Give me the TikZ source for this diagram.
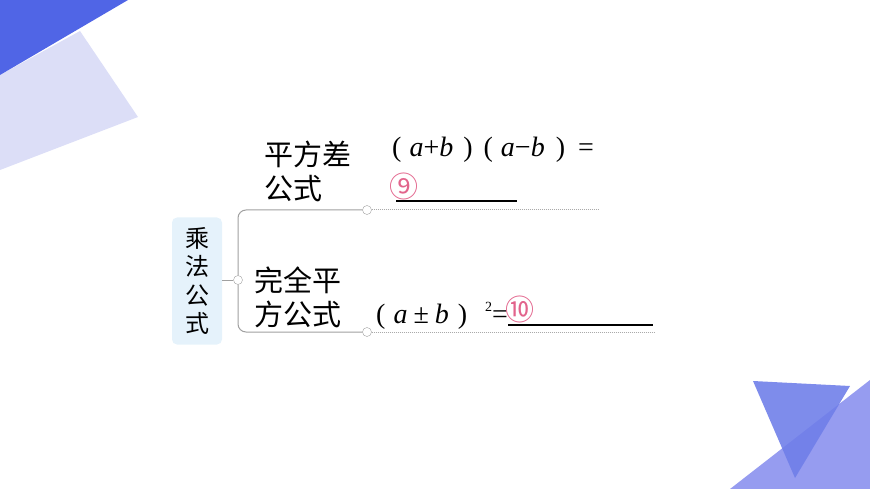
\documentclass[tikz,border=0pt]{standalone}
\usepackage{fontspec}
\setmainfont{Liberation Serif}
\newfontfamily\cjk{Noto Sans CJK SC}
\usetikzlibrary{positioning}
\definecolor{deepblue}{RGB}{80,101,230}
\definecolor{paleblue}{RGB}{220,222,247}
\definecolor{midblue}{RGB}{150,156,240}
\definecolor{violetblue}{RGB}{112,127,233}
\definecolor{rootfill}{RGB}{229,242,251}
\definecolor{linegray}{RGB}{160,160,160}
\definecolor{dotgray}{RGB}{170,170,170}
\definecolor{blankpink}{RGB}{226,100,140}

\begin{document}
\begin{tikzpicture}[x=1pt, y=-1pt]
			\tikzstyle{rootbox}=[
			fill=rootfill,
			rounded corners=5pt,
			minimum width=50pt,
			minimum height=127pt,
			align=center,
			font=\cjk\fontsize{24}{28.5}\selectfont]
			\tikzstyle{knot}=[
			circle,
			draw=linegray,
			fill=white,
			inner sep=0pt,
			minimum size=9pt]
			\tikzstyle{label}=[
			anchor=north west,
			align=left,
			inner sep=0pt,
			font=\cjk\fontsize{29}{34}\selectfont]
			\tikzstyle{formula}=[
			anchor=base west,
			inner sep=0pt,
			font=\fontsize{28}{30}\selectfont]
			\tikzstyle{blank}=[
			inner sep=0pt,
			text=blankpink,
			font=\cjk\fontsize{29}{29}\selectfont]
			\useasboundingbox (0,0) rectangle (870,489);
			% corner decorations
			\fill[paleblue] (0,75) -- (80,31) -- (138,117) -- (0,170) -- cycle;
			\fill[deepblue] (0,0) -- (128,0) -- (0,75) -- cycle;
			\fill[midblue] (730,489) -- (870,380) -- (870,489) -- cycle;
			\fill[violetblue, opacity=0.9] (753,381) -- (850,386) -- (795,478) -- cycle;
			%
			\node[rootbox] (R) at (197,281) {乘\\法\\公\\式};
			\node[knot] (K) at (238,280) {};
			\node[knot] (K1) at (367,210) {};
			\node[knot] (K2) at (367,332) {};
			\coordinate (E1) at (598,210);
			\coordinate (E2) at (655,332);
			%
			\node[label] (SQ) at (264,141) {平方差\\公式};
			\node[label] (PS) at (254,267) {完全平\\方公式};
			\node[formula] (F1) at (392,157) {(\hspace{8pt}\textit{a}+\textit{b}\hspace{10pt})\hspace{11pt}(\hspace{8pt}\textit{a}−\textit{b}\hspace{11pt})\hspace{13pt}=};
			\node[formula] (F2) at (376,323) {(\hspace{8pt}\textit{a}\hspace{6pt}±\hspace{6pt}\textit{b}\hspace{9pt})\hspace{18pt}\raisebox{12pt}{\fontsize{14}{14}\selectfont 2}=};
			\node[blank] (N9) at (404,186) {⑨};
			\node[blank] (N10) at (520,309) {⑩};
			\coordinate (U1a) at (396,201);
			\coordinate (U1b) at (517,201);
			\coordinate (U2a) at (508,325);
			\coordinate (U2b) at (653,325);
			%
			\draw[linegray, line width=1pt] (R.east |- K) -- (K.west);
			\draw[linegray, line width=1pt, rounded corners=8pt] (K.north) |- (K1.west);
			\draw[linegray, line width=1pt, rounded corners=8pt] (K.south) |- (K2.west);
			\draw[dotgray, line width=1pt, densely dotted] (K1.east) -- (E1);
			\draw[dotgray, line width=1pt, densely dotted] (K2.east) -- (E2);
			\draw[line width=1.3pt] (U1a) -- (U1b);
			\draw[line width=1.3pt] (U2a) -- (U2b);
		\end{tikzpicture}
\end{document}
